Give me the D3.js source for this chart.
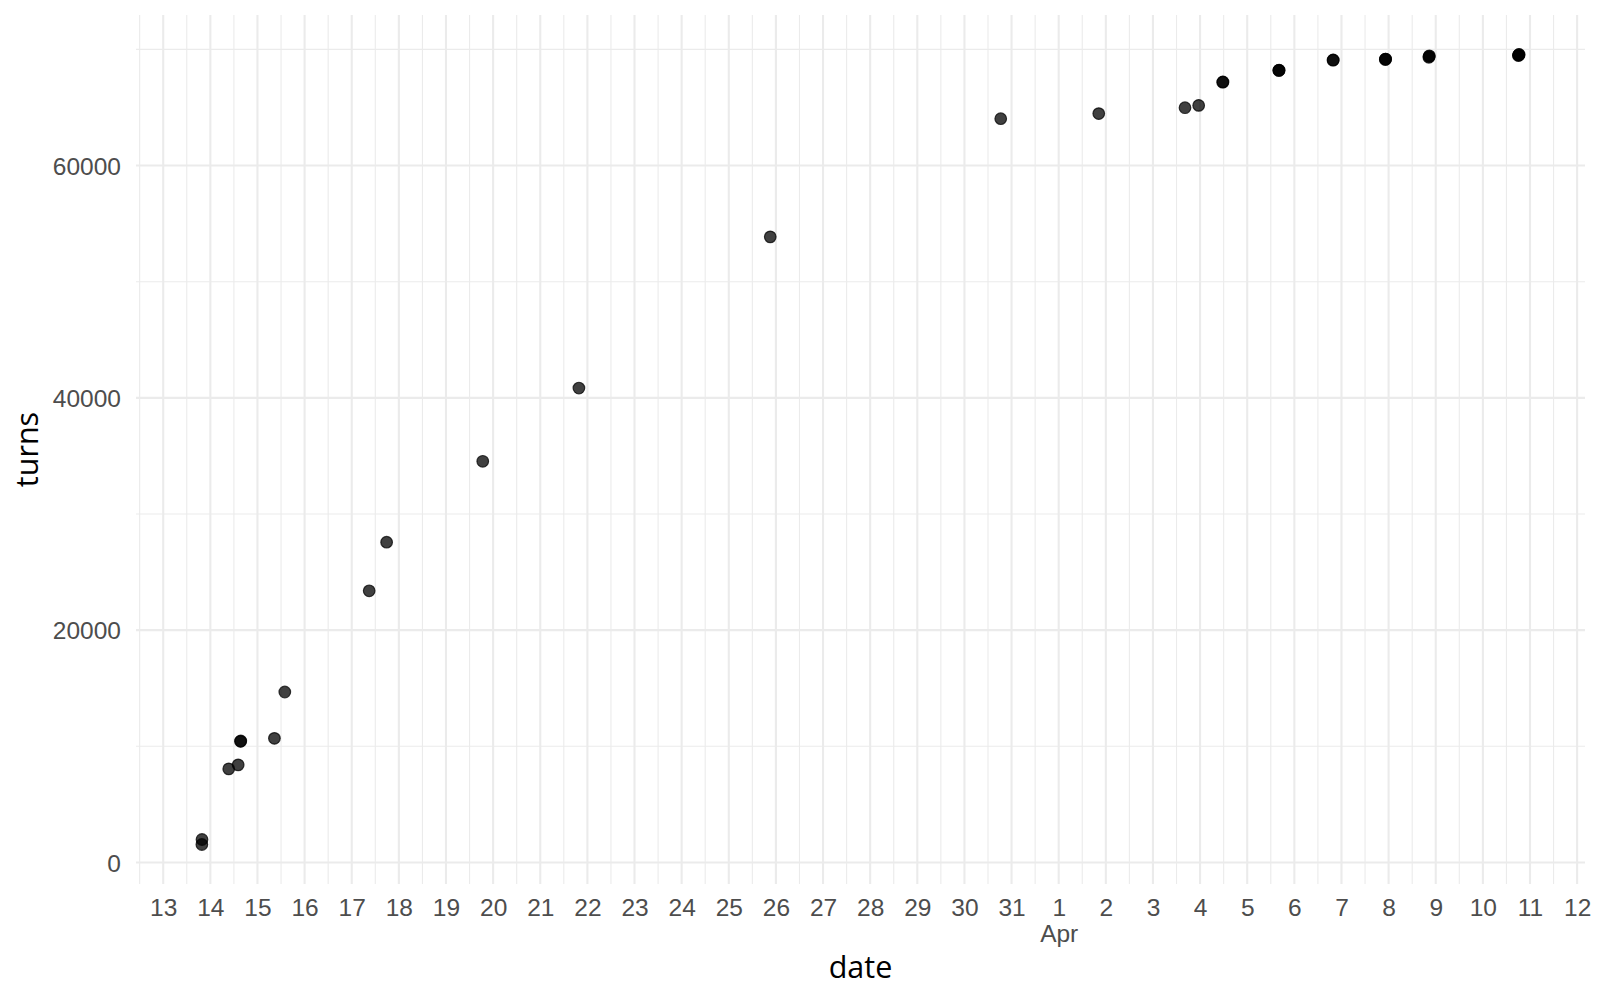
<!DOCTYPE html>
<html><head><meta charset="utf-8">
<script src="https://cdn.jsdelivr.net/npm/d3@7"></script>
<style>
html,body{margin:0;padding:0;background:#fff;}
svg{display:block;font-family:"Open Sans","Noto Sans",sans-serif;}
</style></head>
<body>
<svg id="chart" width="1600" height="1000"></svg>
<script>
// observation timestamps (UTC) and cumulative turns
const dates = [
  "2020-03-13T19:41","2020-03-13T19:45","2020-03-14T09:22","2020-03-14T14:10",
  "2020-03-14T15:22","2020-03-14T15:30","2020-03-15T08:38","2020-03-15T13:55",
  "2020-03-17T08:53","2020-03-17T17:46","2020-03-19T18:43","2020-03-21T19:41",
  "2020-03-25T21:07","2020-03-30T18:29","2020-04-01T20:24","2020-04-03T16:19",
  "2020-04-03T23:17","2020-04-04T11:31","2020-04-04T11:40",
  "2020-04-05T16:05","2020-04-05T16:10","2020-04-05T16:15",
  "2020-04-06T19:41","2020-04-06T19:50",
  "2020-04-07T22:19","2020-04-07T22:25","2020-04-07T22:30",
  "2020-04-08T20:30","2020-04-08T20:38","2020-04-08T20:45",
  "2020-04-10T18:05","2020-04-10T18:14","2020-04-10T18:20","2020-04-10T18:28"
];
const turns = [
  1548,1978,8057,8401,
  10430,10460,10688,14678,
  23388,27575,34540,40843,
  53860,64035,64474,64979,
  65176,67179,67200,
  68186,68200,68210,
  69072,69090,
  69132,69150,69170,
  69320,69390,69450,
  69470,69502,69540,69560
];
const yTicks = [0,20000,40000,60000];
const yMinor = [10000,30000,50000,70000];
const xTitle = "date", yTitle = "turns";

const parse = d3.utcParse("%Y-%m-%dT%H:%M");
const data = dates.map((d,i)=>({date:parse(d), turns:turns[i]}));

const svg = d3.select("#chart");
const L=136, R=1585, T=15, B=884;

const xe = d3.extent(data,d=>d.date);
const xs = (xe[1]-xe[0])*0.05;
const x = d3.scaleUtc().domain([new Date(+xe[0]-xs), new Date(+xe[1]+xs)]).range([L,R]);
const ye = d3.extent(data,d=>d.turns);
const ys = (ye[1]-ye[0])*0.05;
const y = d3.scaleLinear().domain([ye[0]-ys, ye[1]+ys]).range([B,T]);

const days = d3.utcDay.range(d3.utcDay.ceil(x.domain()[0]), x.domain()[1]);
const noonSet = d3.utcDay.range(d3.utcDay.floor(x.domain()[0]), x.domain()[1])
  .map(d=>d3.utcHour.offset(d,12)).filter(d=>d>=x.domain()[0]&&d<=x.domain()[1]);

const grid = svg.append("g");
grid.selectAll(".ymin").data(yMinor).join("line")
  .attr("x1",L).attr("x2",R).attr("y1",d=>y(d)).attr("y2",d=>y(d))
  .attr("stroke","#ebebeb").attr("stroke-width",1.1);
grid.selectAll(".xmin").data(noonSet).join("line")
  .attr("x1",d=>x(d)).attr("x2",d=>x(d)).attr("y1",T).attr("y2",B)
  .attr("stroke","#ebebeb").attr("stroke-width",1.1);
grid.selectAll(".ymaj").data(yTicks).join("line")
  .attr("x1",L).attr("x2",R).attr("y1",d=>y(d)).attr("y2",d=>y(d))
  .attr("stroke","#ebebeb").attr("stroke-width",2.1);
grid.selectAll(".xmaj").data(days).join("line")
  .attr("x1",d=>x(d)).attr("x2",d=>x(d)).attr("y1",T).attr("y2",B)
  .attr("stroke","#ebebeb").attr("stroke-width",2.1);

// axes via d3 axis generators, styled ggplot-minimal
const xAxis = d3.axisBottom(x).tickValues(days).tickSize(0).tickPadding(0)
  .tickFormat(d3.utcFormat("%-d"));
const gx = svg.append("g").attr("transform",`translate(0,${B})`).call(xAxis);
gx.select(".domain").remove();
gx.selectAll("text").attr("fill","#4d4d4d").attr("font-size",24.5).attr("dy",null).attr("y",32);
gx.selectAll(".tick").filter(d=>d.getUTCDate()===1).append("text")
  .attr("fill","#4d4d4d").attr("font-size",24.5).attr("y",58).attr("text-anchor","middle")
  .text(d=>d3.utcFormat("%b")(d));

const yAxis = d3.axisLeft(y).tickValues(yTicks).tickSize(0).tickPadding(0).tickFormat(d3.format("d"));
const gy = svg.append("g").attr("transform",`translate(${L-15},0)`).call(yAxis);
gy.select(".domain").remove();
gy.selectAll("text").attr("fill","#4d4d4d").attr("font-size",24.5).attr("dy","0.36em");

svg.append("text").attr("x",(L+R)/2).attr("y",978).attr("text-anchor","middle")
  .attr("font-size",30.5).attr("fill","#000").text(xTitle);
svg.append("text").attr("transform",`translate(38,${(T+B)/2}) rotate(-90)`)
  .attr("text-anchor","middle").attr("font-size",30.5).attr("fill","#000").text(yTitle);

svg.append("g").selectAll("circle").data(data).join("circle")
  .attr("cx",d=>x(d.date)).attr("cy",d=>y(d.turns)).attr("r",5.8)
  .attr("fill","#000").attr("fill-opacity",0.75)
  .attr("stroke","#000").attr("stroke-opacity",0.75).attr("stroke-width",1.2);
</script>
</body></html>
